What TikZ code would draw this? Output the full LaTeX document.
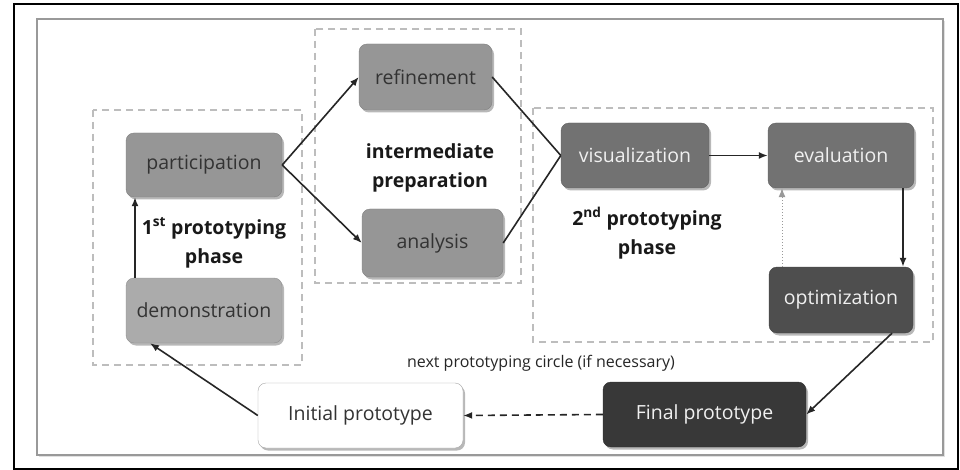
\documentclass[tikz,border=0pt]{standalone}
\usepackage{fontspec}
\setmainfont{Open Sans}
\usetikzlibrary{arrows.meta,shadows}
\definecolor{boxmid}{HTML}{969696}
\definecolor{boxlight}{HTML}{ABABAB}
\definecolor{boxdark}{HTML}{727272}
\definecolor{boxdarker}{HTML}{4E4E4E}
\definecolor{boxdarkest}{HTML}{383838}
\definecolor{txtdark}{HTML}{333333}
\definecolor{txtlight}{HTML}{F0F0F0}
\definecolor{groupline}{HTML}{BDBDBD}
\tikzset{
  stepbox/.style={rounded corners=8pt, minimum height=65pt, inner sep=0pt,
    font=\fontsize{19.5}{22}\selectfont,
    drop shadow={shadow xshift=2pt, shadow yshift=-2.5pt, opacity=0.28, fill=black}},
  midbox/.style={stepbox, fill=boxmid, draw=boxmid!85!black, text=txtdark},
  lightbox/.style={stepbox, fill=boxlight, draw=boxlight!85!black, text=txtdark},
  darkbox/.style={stepbox, fill=boxdark, draw=boxdark!85!black, text=txtlight},
  darkerbox/.style={stepbox, fill=boxdarker, draw=boxdarker!85!black, text=txtlight},
  darkestbox/.style={stepbox, fill=boxdarkest, draw=boxdarkest!85!black, text=txtlight},
  whitebox/.style={stepbox, fill=white, draw=gray!70, text=txtdark},
  group/.style={draw=groupline, dash pattern=on 7pt off 5pt, line width=1.4pt},
  phaselabel/.style={font=\fontsize{19.5}{29}\selectfont\bfseries, align=center, text=black!90},
  flow/.style={line width=1.6pt, draw=black!85, -{Latex[length=9pt,width=7pt]}},
  plainline/.style={line width=1.6pt, draw=black!85},
}
\begin{document}
\begin{tikzpicture}[x=1pt,y=-1pt]
  % page and frames
  \fill[white] (0,0) rectangle (960,470);
  \useasboundingbox (0,0) rectangle (960,470);
  \draw[line width=1.5pt, black] (14,4) rectangle (958,469);
  \fill[black!12] (39,21) rectangle (945,457);
  \draw[line width=1.3pt, gray!80, fill=white] (37,19) rectangle (943,455);

  % dashed phase groups
  \draw[group] (93,110) rectangle (302,365);
  \draw[group] (315,29) rectangle (521,283);
  \draw[group] (533,108) rectangle (933,342);

  % process steps
  \node[midbox, minimum width=156pt, minimum height=64pt] (part) at (204,165) {participation};
  \node[lightbox, minimum width=156pt] (demo) at (204,310.5) {demonstration};
  \node[midbox, minimum width=133pt, minimum height=66pt] (ref) at (425.5,77) {refinement};
  \node[midbox, minimum width=141pt, minimum height=68pt] (ana) at (432.5,243) {analysis};
  \node[darkbox, minimum width=148pt] (vis) at (635,155.5) {visualization};
  \node[darkbox, minimum width=146pt] (eval) at (841,155.5) {evaluation};
  \node[darkerbox, minimum width=144pt, minimum height=66pt] (opt) at (841,300) {optimization};
  \node[darkestbox, minimum width=203pt] (final) at (704.5,414.5) {Final prototype};
  \node[whitebox, minimum width=205pt] (init) at (360.5,415.5) {Initial prototype};

  % phase labels
  \node[phaselabel] (p1) at (214,243) {1\textsuperscript{st} prototyping\\phase};
  \node[phaselabel] (pm) at (430,168) {intermediate\\preparation};
  \node[phaselabel] (p2) at (647,233) {2\textsuperscript{nd} prototyping\\phase};
  \node[font=\fontsize{16}{18}\selectfont, text=black!85] (loop) at (541,363) {next prototyping circle (if necessary)};

  % connectors
  \draw[flow] ([xshift=-69pt]demo.north) -- ([xshift=-69pt]part.south);
  \draw[flow] (part.east) -- (ref.west);
  \draw[flow] (part.east) -- (ana.west);
  \draw[plainline] (ref.east) -- (vis.west);
  \draw[plainline] (ana.east) -- (vis.west);
  \draw[flow] (vis.east) -- (eval.west);
  \draw[flow] ([xshift=62pt]eval.south) -- ([xshift=62pt]opt.north);
  \draw[flow, draw=gray!80, line width=1pt, dotted] ([xshift=-59pt]opt.north) -- ([xshift=-59pt]eval.south);
  \draw[flow] ([xshift=51pt]opt.south) -- (final.east);
  \draw[flow, dash pattern=on 7pt off 5pt] (final.west) -- (init.east);
  \draw[flow] (init.west) -- ([xshift=-54pt]demo.south);
\end{tikzpicture}
\end{document}
